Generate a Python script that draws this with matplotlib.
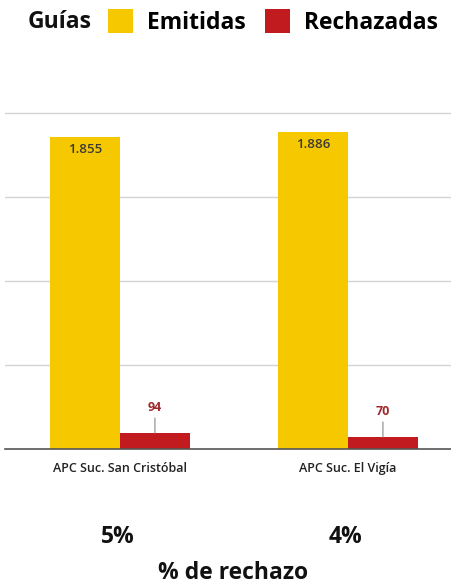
import matplotlib
matplotlib.use("Agg")
import matplotlib.pyplot as plt
import matplotlib.transforms as mtransforms
from matplotlib.patches import Patch

plt.rcParams['font.family'] = ['Open Sans', 'DejaVu Sans']

sucursales = ["APC Suc. San Cristóbal", "APC Suc. El Vigía"]
emitidas = [1855, 1886]
rechazadas = [94, 70]
emitidas_txt = ["1.855", "1.886"]
pct_rechazo = ["5%", "4%"]

YELLOW = "#F5C800"
RED = "#C21B1F"
RED_TXT = "#9E2A2E"

fig = plt.figure(figsize=(4.51, 5.85), dpi=100)
ax = fig.add_axes([5 / 451, 1 - 449 / 585, 446 / 451, 352.8 / 585])

x = list(range(len(sucursales)))
w = 0.307
ax.bar([i - w / 2 for i in x], emitidas, width=w, color=YELLOW, zorder=2)
ax.bar([i + w / 2 for i in x], rechazadas, width=w, color=RED, zorder=2)

for i in x:
    ax.annotate(emitidas_txt[i], (i - w / 2, emitidas[i]), xytext=(0, -4),
                textcoords="offset points", ha="center", va="top",
                fontsize=9.5, color="#3a3a3a", fontweight="semibold")
    ax.annotate(str(rechazadas[i]), (i + w / 2, rechazadas[i]), xytext=(0, 14),
                textcoords="offset points", ha="center", va="bottom",
                fontsize=9, color=RED_TXT, fontweight="bold",
                arrowprops=dict(arrowstyle="-", color="#888888", lw=0.8,
                                shrinkA=1, shrinkB=0))

ax.set_xlim(-0.504, 1.452)
ax.set_ylim(0, 2100)
ax.set_yticks([500, 1000, 1500, 2000])
ax.yaxis.grid(True, color="#d4d4d4", lw=1.0, zorder=0)
ax.tick_params(left=False, labelleft=False, bottom=False, pad=6)
for s in ["top", "right", "left"]:
    ax.spines[s].set_visible(False)
ax.spines["bottom"].set_color("#555555")
ax.spines["bottom"].set_linewidth(1.2)
ax.set_xticks(x)
ax.set_xticklabels(sucursales, fontsize=9, color="#222222", fontweight="semibold")

trans = mtransforms.blended_transform_factory(ax.transData, fig.transFigure)
for i in x:
    ax.text(i - 0.01, 1 - 537 / 585, pct_rechazo[i], transform=trans,
            ha="center", va="center", fontsize=16.5, fontweight="bold", color="#111111")
fig.text(233 / 451, 1 - 573 / 585, "% de rechazo", ha="center", va="center",
         fontsize=16.5, fontweight="bold", color="#111111")

# legend header
fig.text(28 / 451, 1 - 22 / 585, "Guías", ha="left", va="center",
         fontsize=16.5, fontweight="bold", color="#111111")
handles = [Patch(facecolor=YELLOW), Patch(facecolor=RED)]
fig.legend(handles, ["Emitidas", "Rechazadas"], loc="center left",
           bbox_to_anchor=(108 / 451, 1 - 22 / 585), ncol=2, frameon=False,
           handlelength=1.09, handleheight=1.25, columnspacing=0.85, handletextpad=0.6,
           prop=dict(size=16.5, weight="bold"), borderaxespad=0, borderpad=0)

fig.savefig("out.png", dpi=100)
